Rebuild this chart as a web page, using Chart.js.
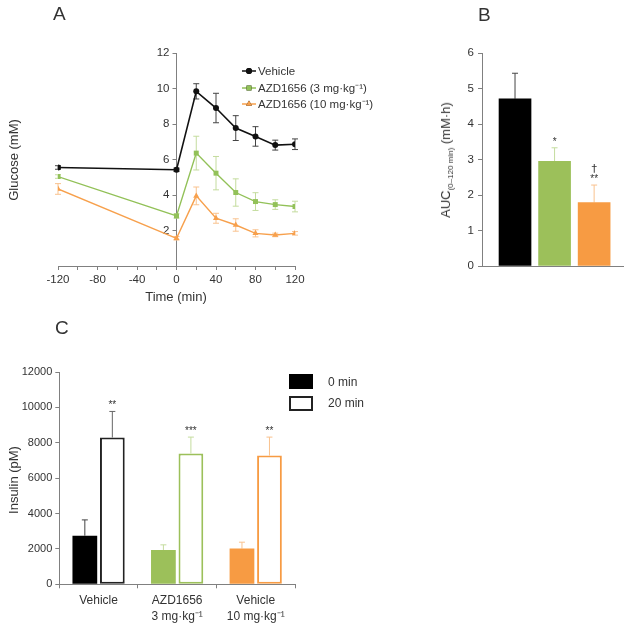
<!DOCTYPE html>
<html><head><meta charset="utf-8">
<script src="https://cdn.jsdelivr.net/npm/chart.js@4"></script>
<style>
body{margin:0;background:#fff;width:630px;height:625px;overflow:hidden;position:relative;font-family:"Liberation Sans",Arial,sans-serif;color:#333}
canvas{position:absolute;left:0;top:0}
.t{position:absolute;white-space:nowrap;color:#333;line-height:1}
.r{transform:translate(-50%,-50%) rotate(-90deg)}
.sub{font-size:8px;vertical-align:-3px}
.box{position:absolute;box-sizing:border-box}
</style></head><body>
<canvas id="cA" width="630" height="625"></canvas>
<canvas id="cB" width="630" height="625"></canvas>
<canvas id="cC" width="630" height="625"></canvas>

<div class="t" style="left:53px;top:4px;font-size:19px">A</div>
<div class="t" style="left:478px;top:5px;font-size:19px">B</div>
<div class="t" style="left:55px;top:318px;font-size:19px">C</div>

<div class="t r" style="left:13px;top:160px;font-size:13px">Glucose (mM)</div>
<div class="t" style="left:176px;top:290px;font-size:13px;transform:translateX(-50%)">Time (min)</div>
<div class="t r" style="left:447px;top:160px;font-size:13px">AUC<span class="sub">(0–120 min)</span> (mM·h)</div>
<div class="t r" style="left:13px;top:480px;font-size:13px">Insulin (pM)</div>

<div class="box" style="left:289px;top:374px;width:24px;height:15px;background:#000"></div>
<div class="t" style="left:328px;top:376px;font-size:12px">0 min</div>
<div class="box" style="left:289px;top:396px;width:24px;height:15px;border:2px solid #222;background:#fff"></div>
<div class="t" style="left:328px;top:397px;font-size:12px">20 min</div>

<script>
// ---------- DATA ----------
const timeMin = [-120, 0, 20, 40, 60, 80, 100, 120];
const seriesLabels = ['Vehicle', 'AZD1656 (3 mg·kg⁻¹)', 'AZD1656 (10 mg·kg⁻¹)'];
const glucoseVehicle = [5.55, 5.42, 9.84, 8.90, 7.77, 7.30, 6.81, 6.86];
const glucoseVehicleErr = [0.10, 0.10, 0.43, 0.83, 0.70, 0.55, 0.28, 0.30];
const glucoseAZD3 = [5.04, 2.82, 6.36, 5.23, 4.14, 3.63, 3.46, 3.35];
const glucoseAZD3Err = [0.10, 0.12, 0.95, 0.94, 0.77, 0.50, 0.27, 0.30];
const glucoseAZD10 = [4.34, 1.56, 3.95, 2.69, 2.31, 1.84, 1.75, 1.84];
const glucoseAZD10Err = [0.30, 0.10, 0.50, 0.28, 0.35, 0.20, 0.10, 0.10];

const aucPositions = [1, 2, 3];
const aucValues = [4.71, 2.95, 1.79];
const aucErr = [0.72, 0.38, 0.49];
const aucSig = ['', '*', '**'];
const aucSig2 = ['', '', '†'];

const insulinGroups = [['Vehicle'], ['AZD1656', '3 mg·kg⁻¹'], ['Vehicle', '10 mg·kg⁻¹']];
const insulinSeries = ['0 min', '20 min'];
const insulin0 = [2750, 1940, 2020];
const insulin0Err = [890, 290, 360];
const insulin20 = [8300, 7400, 7280];
const insulin20Err = [1470, 920, 1040];
const insulinSig = ['**', '***', '**'];

// ---------- STYLE ----------
const BLACK = '#000000', GREEN = '#9cc05a', ORANGE = '#f79b43';
const ERR = ['#444444', '#c4dc9e', '#f9c28e'];
const AXIS = '#808080';
Chart.defaults.font.family = '"Liberation Sans", Arial, sans-serif';
Chart.defaults.font.size = 11;
Chart.defaults.color = '#333';
Chart.defaults.animation = false;

const fixW = w => s => { s.width = w; };
const fixH = h => s => { s.height = h; };

function errBars(symmetric) {
  return {
    id: 'errBars',
    beforeDatasetsDraw(chart) {
      const ctx = chart.ctx, ys = chart.scales.y;
      chart.data.datasets.forEach((ds, i) => {
        const meta = chart.getDatasetMeta(i);
        meta.data.forEach((el, j) => {
          const v = typeof ds.data[j] === 'object' ? ds.data[j].y : ds.data[j];
          const e = ds.errors[j];
          const top = ys.getPixelForValue(v + e);
          const bot = symmetric ? ys.getPixelForValue(v - e) : el.y;
          const col = Array.isArray(ds.errColor) ? ds.errColor[j] : ds.errColor;
          ctx.save();
          ctx.strokeStyle = col; ctx.lineWidth = 1;
          ctx.beginPath();
          ctx.moveTo(el.x, top); ctx.lineTo(el.x, bot);
          ctx.moveTo(el.x - 3, top); ctx.lineTo(el.x + 3, top);
          if (symmetric) { ctx.moveTo(el.x - 3, bot); ctx.lineTo(el.x + 3, bot); }
          ctx.stroke();
          ctx.restore();
        });
      });
    }
  };
}

// ---------- CHART A ----------
function lineDs(label, data, err, color, errColor, style, r, bw) {
  return {
    label, data: data.map((y, i) => ({ x: timeMin[i], y })), errors: err, errColor,
    borderColor: color, backgroundColor: color, borderWidth: bw,
    pointStyle: style, pointRadius: r, pointBorderWidth: 0, pointBackgroundColor: color,
    tension: 0
  };
}
const legendA = {
  id: 'legendA',
  afterDraw(chart) {
    const ctx = chart.ctx;
    const ys = [71, 88, 104];
    chart.data.datasets.forEach((ds, i) => {
      const y = ys[i];
      ctx.save();
      ctx.strokeStyle = ds.borderColor; ctx.lineWidth = 1.5;
      ctx.beginPath(); ctx.moveTo(242, y); ctx.lineTo(256, y); ctx.stroke();
      Chart.helpers.drawPoint(ctx, { pointStyle: ds.pointStyle, radius: ds.pointRadius, borderWidth: 0 }, 249, y);
      ctx.fillStyle = ds.borderColor; ctx.fill();
      ctx.fillStyle = '#333'; ctx.font = '11.5px "Liberation Sans", Arial, sans-serif';
      ctx.textBaseline = 'middle'; ctx.textAlign = 'left';
      ctx.fillText(ds.label, 258, y + 0.5);
      ctx.restore();
    });
  }
};
// move the glucose y axis so it crosses the time axis at t = 0
const yAtZero = {
  id: 'yAtZero',
  afterLayout(chart) {
    const y = chart.scales.y;
    const px = chart.scales.x.getPixelForValue(0);
    y.right = px; y.left = px - 40;
  }
};
new Chart(document.getElementById('cA'), {
  type: 'line',
  data: {
    datasets: [
      lineDs(seriesLabels[0], glucoseVehicle, glucoseVehicleErr, '#111', ERR[0], 'circle', 3, 1.6),
      lineDs(seriesLabels[1], glucoseAZD3, glucoseAZD3Err, '#92c158', ERR[1], 'rect', 3.5, 1.4),
      lineDs(seriesLabels[2], glucoseAZD10, glucoseAZD10Err, '#f7a04c', ERR[2], 'triangle', 3.5, 1.4)
    ]
  },
  options: {
    responsive: false, devicePixelRatio: 1,
    layout: { padding: { left: 18, right: 335, top: 53, bottom: 329 } },
    plugins: { legend: { display: false }, tooltip: { enabled: false } },
    scales: {
      x: {
        type: 'linear', position: 'bottom', min: -120, max: 120, afterFit: fixH(30),
        ticks: { stepSize: 20, autoSkip: false, maxRotation: 0, padding: 3, font: { size: 11.5 },
          callback: v => (v % 40 === 0 ? String(v) : '') },
        grid: { drawOnChartArea: false, tickLength: 4, color: AXIS },
        border: { color: AXIS }
      },
      y: {
        type: 'linear', position: 'left', min: 0, max: 12, afterFit: fixW(40),
        ticks: { stepSize: 2, padding: 3, font: { size: 11.5 }, callback: v => (v === 0 ? '' : String(v)) },
        grid: { drawOnChartArea: false, tickLength: 4, color: AXIS },
        border: { color: AXIS }
      }
    }
  },
  plugins: [yAtZero, errBars(true), legendA]
});

// ---------- CHART B ----------
const sigB = {
  id: 'sigB',
  afterDatasetsDraw(chart) {
    const ctx = chart.ctx, ys = chart.scales.y, meta = chart.getDatasetMeta(0);
    ctx.save();
    ctx.fillStyle = '#333'; ctx.textAlign = 'center'; ctx.textBaseline = 'alphabetic';
    meta.data.forEach((el, j) => {
      const top = ys.getPixelForValue(aucValues[j] + aucErr[j]);
      ctx.font = '10px "Liberation Sans", Arial, sans-serif';
      if (aucSig[j]) ctx.fillText(aucSig[j], el.x, top - 3);
      ctx.font = '11px "DejaVu Sans", sans-serif';
      if (aucSig2[j]) ctx.fillText(aucSig2[j], el.x, top - 13);
    });
    ctx.restore();
  }
};
new Chart(document.getElementById('cB'), {
  type: 'bar',
  data: {
    datasets: [{
      data: aucValues.map((y, i) => ({ x: aucPositions[i], y })),
      errors: aucErr, errColor: ERR,
      backgroundColor: [BLACK, GREEN, ORANGE], borderWidth: 0, barThickness: 32
    }]
  },
  options: {
    responsive: false, devicePixelRatio: 1,
    layout: { padding: { left: 442, right: 7, top: 53, bottom: 359 } },
    plugins: { legend: { display: false }, tooltip: { enabled: false } },
    scales: {
      x: {
        type: 'linear', min: 0.165, max: 3.73, afterFit: fixH(0), offset: false,
        ticks: { display: false },
        grid: { display: false },
        border: { color: AXIS }
      },
      y: {
        min: 0, max: 6, afterFit: fixW(40),
        ticks: { stepSize: 1, padding: 4, font: { size: 11.5 } },
        grid: { drawOnChartArea: false, tickLength: 4, color: AXIS },
        border: { color: AXIS }
      }
    }
  },
  plugins: [errBars(false), sigB]
});

// ---------- CHART C ----------
const sigC = {
  id: 'sigC',
  afterDatasetsDraw(chart) {
    const ctx = chart.ctx, ys = chart.scales.y, meta = chart.getDatasetMeta(1);
    ctx.save();
    ctx.fillStyle = '#333'; ctx.textAlign = 'center'; ctx.textBaseline = 'alphabetic';
    ctx.font = '10px "Liberation Sans", Arial, sans-serif';
    meta.data.forEach((el, j) => {
      const top = ys.getPixelForValue(insulin20[j] + insulin20Err[j]);
      ctx.fillText(insulinSig[j], el.x, top - 3);
    });
    ctx.restore();
  }
};
new Chart(document.getElementById('cC'), {
  type: 'bar',
  data: {
    labels: insulinGroups,
    datasets: [
      { label: insulinSeries[0], data: insulin0, errors: insulin0Err, errColor: ERR,
        backgroundColor: [BLACK, GREEN, ORANGE], borderWidth: 0,
        categoryPercentage: 0.70, barPercentage: 0.9 },
      { label: insulinSeries[1], data: insulin20, errors: insulin20Err, errColor: ['#666', ERR[1], ERR[2]],
        backgroundColor: '#ffffff', borderColor: ['#222', GREEN, ORANGE], borderWidth: 2, borderSkipped: false,
        categoryPercentage: 0.70, barPercentage: 0.9 }
    ]
  },
  options: {
    responsive: false, devicePixelRatio: 1,
    layout: { padding: { left: 4, right: 335, top: 372, bottom: 0 } },
    plugins: { legend: { display: false }, tooltip: { enabled: false } },
    scales: {
      x: {
        afterFit: fixH(40.7),
        ticks: { padding: 4, maxRotation: 0, font: { size: 12, lineHeight: 1.35 } },
        grid: { drawOnChartArea: false, offset: true, tickLength: 4, color: AXIS },
        border: { color: AXIS }
      },
      y: {
        min: 0, max: 12000, afterFit: fixW(55.3),
        ticks: { stepSize: 2000, padding: 3, font: { size: 11 }, callback: v => String(v) },
        grid: { drawOnChartArea: false, tickLength: 4, color: AXIS },
        border: { color: AXIS }
      }
    }
  },
  plugins: [errBars(false), sigC]
});
</script>
</body></html>
